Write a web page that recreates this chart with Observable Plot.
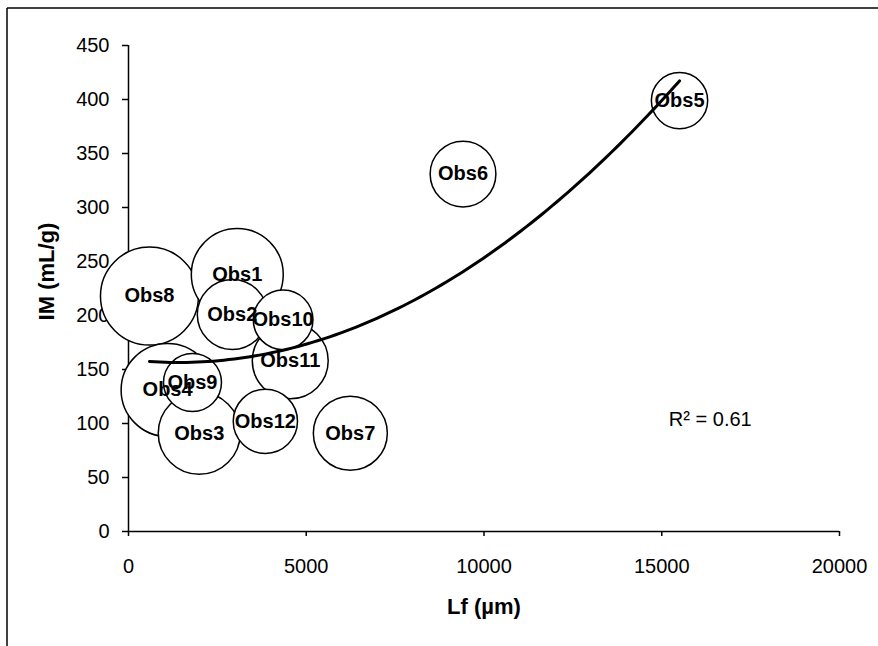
<!DOCTYPE html>
<html>
<head>
<meta charset="utf-8">
<script src="https://cdn.jsdelivr.net/npm/d3@7"></script>
<script src="https://cdn.jsdelivr.net/npm/@observablehq/plot@0.6"></script>
<style>
  html, body { margin: 0; padding: 0; background: #fff; }
  #chart { width: 878px; height: 646px; }
</style>
</head>
<body>
<div id="chart"></div>
<script>
// ---- data ----
const names = ["Obs1","Obs2","Obs3","Obs4","Obs5","Obs6","Obs7","Obs8","Obs9","Obs10","Obs11","Obs12"];
const lf    = [3060, 2920, 1990, 1100, 15500, 9410, 6240, 590, 1800, 4350, 4550, 3850];   // Lf (µm)
const im    = [ 238,  201,   91,  131,   399,  331,   91, 218,  138,  196,  158,  102];   // IM (mL/g)
const size  = [  88,   51,   70,   90,    33,   45,   57, 100,   35,   37,   60,   43];   // bubble size (relative)
const xTicks = [0, 5000, 10000, 15000, 20000];
const yTicks = [0, 50, 100, 150, 200, 250, 300, 350, 400, 450];
const r2Label = "R² = 0.61";

const data = names.map((n, i) => ({name: n, x: lf[i], y: im[i], s: size[i]}));

// quadratic least-squares trendline fitted to the points
function polyfit2(xs, ys) {
  const n = xs.length;
  let S = [0,0,0,0,0], T = [0,0,0];
  for (let i = 0; i < n; i++) {
    let p = 1;
    for (let k = 0; k < 5; k++) { S[k] += p; if (k < 3) T[k] += p * ys[i]; p *= xs[i]; }
  }
  const A = [[S[0],S[1],S[2],T[0]],[S[1],S[2],S[3],T[1]],[S[2],S[3],S[4],T[2]]];
  for (let c = 0; c < 3; c++) {
    let piv = c;
    for (let r = c + 1; r < 3; r++) if (Math.abs(A[r][c]) > Math.abs(A[piv][c])) piv = r;
    [A[c], A[piv]] = [A[piv], A[c]];
    for (let r = 0; r < 3; r++) if (r !== c) {
      const f = A[r][c] / A[c][c];
      for (let k = c; k < 4; k++) A[r][k] -= f * A[c][k];
    }
  }
  return [A[0][3]/A[0][0], A[1][3]/A[1][1], A[2][3]/A[2][2]];
}
const coef = polyfit2(lf, im);
const xMin = d3.min(lf), xMax = d3.max(lf);
const trend = d3.range(0, 101).map(i => {
  const x = xMin + (xMax - xMin) * i / 100;
  return {x, y: coef[0] + coef[1] * x + coef[2] * x * x};
});

const font = "'Liberation Sans', Arial, Helvetica, sans-serif";

const chart = Plot.plot({
  width: 878,
  height: 646,
  marginLeft: 128,
  marginRight: 39,
  marginTop: 45,
  marginBottom: 115,
  style: {fontFamily: font, fontSize: "20px", background: "#fff", color: "#000", overflow: "visible"},
  x: {domain: [0, 20000]},
  y: {domain: [0, 450]},
  r: {domain: [0, 100], range: [0, 49]},
  marks: [
    Plot.ruleY([0], {stroke: "#000", strokeWidth: 1.5}),
    Plot.ruleX([0], {stroke: "#000", strokeWidth: 1.5}),
    Plot.axisX({ticks: xTicks, tickSize: 5, tickPadding: 22, tickFormat: d => String(d), label: null, fontSize: 20, strokeWidth: 1.5}),
    Plot.axisY({ticks: yTicks, tickSize: 6, tickPadding: 13, tickFormat: d => String(d), label: null, fontSize: 20, strokeWidth: 1.5}),
    Plot.dot(data, {x: "x", y: "y", r: "s", fill: "#fff", stroke: "#000", strokeWidth: 1.5}),
    Plot.line(trend, {x: "x", y: "y", stroke: "#000", strokeWidth: 3}),
    Plot.text(data, {x: "x", y: "y", text: "name", fontWeight: "bold", fontSize: 20, fill: "#000"}),
    Plot.text([r2Label], {x: 15200, y: 104, textAnchor: "start", fontSize: 20, fill: "#000"}),
    Plot.text(["Lf (µm)"], {frameAnchor: "bottom", textAnchor: "middle", lineAnchor: "middle", dy: 75, fontWeight: "bold", fontSize: 22, fill: "#000"}),
    Plot.text(["IM (mL/g)"], {frameAnchor: "left", textAnchor: "middle", lineAnchor: "middle", dx: -82, dy: -17, rotate: -90, fontWeight: "bold", fontSize: 22, fill: "#000"})
  ]
});

// outer border (top and left edges visible in the reference)
const svg = d3.select(chart);
svg.append("line").attr("x1", 7).attr("y1", 8).attr("x2", 878).attr("y2", 8).attr("stroke", "#000").attr("stroke-width", 1.5);
svg.append("line").attr("x1", 7).attr("y1", 8).attr("x2", 7).attr("y2", 646).attr("stroke", "#000").attr("stroke-width", 1.5);

document.getElementById("chart").appendChild(chart);
</script>
</body>
</html>
